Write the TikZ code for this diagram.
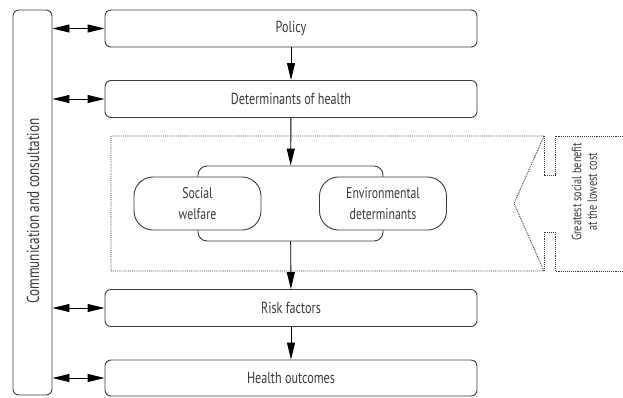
\documentclass[tikz,border=0pt]{standalone}
\usepackage{fontspec}
\setmainfont{PT Sans}[FakeStretch=0.76]
\usetikzlibrary{arrows.meta}

\definecolor{ink}{HTML}{3A3A3A}

\tikzset{
  stagebox/.style={draw=ink, rounded corners=6pt, minimum width=372pt,
    minimum height=37pt, inner sep=0pt, text=ink},
  hubbox/.style={draw=ink, rounded corners=9pt, minimum width=185pt,
    minimum height=75pt, inner sep=0pt},
  sidebox/.style={draw=ink, fill=white, rounded corners=19pt, minimum width=127pt,
    minimum height=53pt, inner sep=0pt, align=center, text=ink,
    font=\fontsize{15.5}{21}\selectfont},
  zone/.style={draw=ink, densely dotted}
}

\begin{document}
\begin{tikzpicture}[x=1pt,y=-1pt,line width=0.9pt,
  >={Triangle[length=17pt,width=8pt]}, font=\fontsize{16}{18}\selectfont]

\useasboundingbox (0,0) rectangle (623,397);

% the chain of stages
\node[stagebox] (policy) at (291,28.5) {Policy};
\node[stagebox] (determinants) at (291,99) {Determinants of health};
\node[stagebox] (risk) at (291,308) {Risk factors};
\node[stagebox, minimum height=36pt] (outcomes) at (291,378) {Health outcomes};

% the two determinants sit on a common plate
\node[hubbox] (hub) at (290.5,203.5) {};
\node[sidebox] (social) at (197.5,203.5) {Social\\welfare};
\node[sidebox] (environ) at (383,203.5) {Environmental\\determinants};

\draw[->] (policy) -- (determinants);
\draw[->] (determinants) -- (hub);
\draw[->] (hub) -- (risk);
\draw[->] (risk) -- (outcomes);

% communication column
\node[draw=ink, rounded corners=6pt, minimum width=39pt, minimum height=385pt,
  inner sep=0pt] (comm) at (32.5,202.5) {};
\node[rotate=90, text=ink, font=\fontsize{17.3}{20}\selectfont] (commtext)
  at (33,211) {Communication and consultation};

\foreach \b in {policy,determinants,risk,outcomes}
  {\draw[<->] (comm.east |- \b.west) -- (\b.west);}

% dotted zone with the big arrow
\draw[zone] (544,136) -- (111,136) -- (111,271) -- (544,271) -- (514,203.5) -- cycle;
\draw[zone] (623,136) -- (555,136) -- (555,175) -- (544,175) -- (544,136);
\draw[zone] (623,271) -- (555,271) -- (555,232) -- (544,232) -- (544,271);

\node[rotate=90, align=center, text=ink, font=\fontsize{13.5}{15.5}\selectfont]
  (benefit) at (584.5,192) {Greatest social benefit\\at the lowest cost};

\end{tikzpicture}
\end{document}
